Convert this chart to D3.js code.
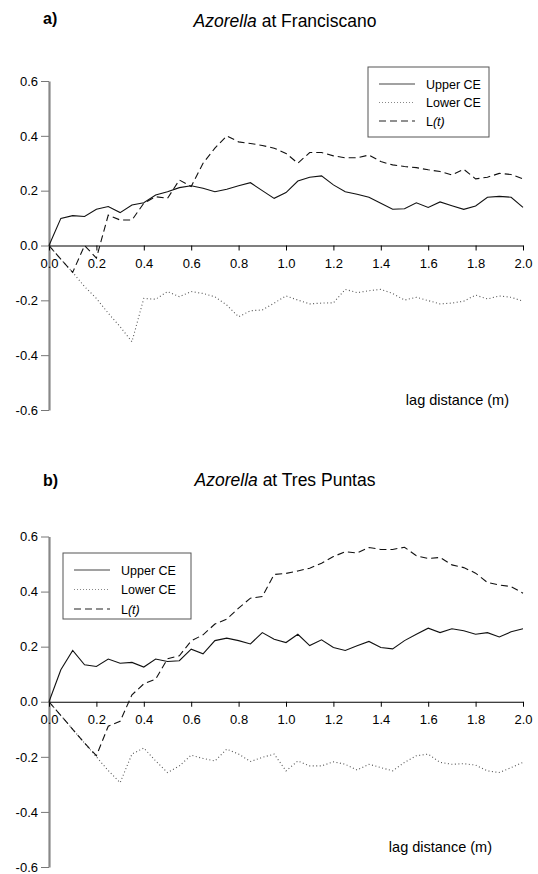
<!DOCTYPE html>
<html>
<head>
<meta charset="utf-8">
<script src="https://cdn.jsdelivr.net/npm/d3@7"></script>
<style>
  body { margin: 0; background: #fff; }
  text { font-family: "Liberation Sans", Arial, sans-serif; }
</style>
</head>
<body>
<script>
var lag = [0.00, 0.05, 0.10, 0.15, 0.20, 0.25, 0.30, 0.35, 0.40, 0.45,
           0.50, 0.55, 0.60, 0.65, 0.70, 0.75, 0.80, 0.85, 0.90, 0.95,
           1.00, 1.05, 1.10, 1.15, 1.20, 1.25, 1.30, 1.35, 1.40, 1.45,
           1.50, 1.55, 1.60, 1.65, 1.70, 1.75, 1.80, 1.85, 1.90, 1.95, 2.00];

// a) Franciscano
var aUpper = [0, 0.099, 0.109, 0.106, 0.132, 0.142, 0.120, 0.148, 0.156, 0.184,
              0.196, 0.211, 0.218, 0.209, 0.196, 0.205, 0.218, 0.229, 0.200, 0.172,
              0.193, 0.235, 0.249, 0.254, 0.221, 0.196, 0.187, 0.176, 0.154, 0.132,
              0.134, 0.156, 0.139, 0.159, 0.145, 0.132, 0.144, 0.176, 0.179, 0.176, 0.139];
var aLower = [0, -0.050, -0.098, -0.150, -0.193, -0.247, -0.296, -0.351, -0.193, -0.196,
              -0.168, -0.187, -0.168, -0.175, -0.187, -0.217, -0.260, -0.238, -0.235, -0.210,
              -0.184, -0.199, -0.213, -0.210, -0.209, -0.160, -0.172, -0.165, -0.160, -0.175,
              -0.199, -0.189, -0.201, -0.213, -0.210, -0.203, -0.181, -0.195, -0.184, -0.189, -0.203];
var aL = [0, -0.050, -0.098, 0.000, -0.046, 0.111, 0.093, 0.093, 0.154, 0.178,
          0.172, 0.239, 0.215, 0.300, 0.355, 0.400, 0.378, 0.372, 0.365, 0.355,
          0.336, 0.300, 0.339, 0.339, 0.327, 0.320, 0.320, 0.330, 0.306, 0.294,
          0.288, 0.284, 0.276, 0.270, 0.257, 0.278, 0.243, 0.249, 0.263, 0.259, 0.243];

// b) Tres Puntas
var bUpper = [0, 0.116, 0.186, 0.134, 0.128, 0.155, 0.140, 0.143, 0.126, 0.155,
              0.146, 0.149, 0.191, 0.174, 0.222, 0.231, 0.222, 0.210, 0.251, 0.227,
              0.215, 0.245, 0.204, 0.225, 0.197, 0.186, 0.203, 0.219, 0.197, 0.192,
              0.222, 0.245, 0.267, 0.251, 0.265, 0.258, 0.245, 0.251, 0.235, 0.254, 0.265];
var bLower = [0, -0.050, -0.100, -0.150, -0.200, -0.250, -0.294, -0.190, -0.168, -0.215,
              -0.257, -0.233, -0.194, -0.206, -0.215, -0.172, -0.190, -0.217, -0.202, -0.190,
              -0.251, -0.215, -0.233, -0.233, -0.218, -0.227, -0.248, -0.227, -0.239, -0.251,
              -0.220, -0.196, -0.190, -0.220, -0.227, -0.225, -0.230, -0.251, -0.257, -0.239, -0.220];
var bL = [0, -0.050, -0.100, -0.150, -0.196, -0.089, -0.071, 0.025, 0.065, 0.082,
          0.156, 0.167, 0.221, 0.243, 0.282, 0.300, 0.340, 0.376, 0.382, 0.462,
          0.466, 0.475, 0.485, 0.503, 0.527, 0.545, 0.540, 0.560, 0.553, 0.553,
          0.561, 0.530, 0.520, 0.524, 0.497, 0.487, 0.467, 0.433, 0.424, 0.418, 0.394];

var xTicks = [0, 0.2, 0.4, 0.6, 0.8, 1.0, 1.2, 1.4, 1.6, 1.8, 2.0];
var xTickLabels = ["0.0", "0.2", "0.4", "0.6", "0.8", "1.0", "1.2", "1.4", "1.6", "1.8", "2.0"];
var yTicks = [-0.6, -0.4, -0.2, 0, 0.2, 0.4, 0.6];
var yTickLabels = ["-0.6", "-0.4", "-0.2", "0.0", "0.2", "0.4", "0.6"];
var legendNames = ["Upper CE", "Lower CE", "L"];

var svg = d3.select("body").append("svg").attr("width", 538).attr("height", 874);

function panel(o) {
  var x = d3.scaleLinear().domain([0, 2]).range([49, 523]);
  var y = d3.scaleLinear().domain([-0.6, 0.6]).range([o.bottom, o.top]);
  var g = svg.append("g");

  // panel letter + title
  g.append("text").attr("x", 43).attr("y", o.letterY)
    .attr("font-size", 16).attr("font-weight", "bold").text(o.letter);
  var t = g.append("text").attr("x", 285).attr("y", o.titleY)
    .attr("font-size", 17.5).attr("text-anchor", "middle");
  t.append("tspan").attr("font-style", "italic").text("Azorella");
  t.append("tspan").text(" at " + o.site);

  // y axis (gray)
  var ya = g.append("g").attr("transform", "translate(49,0)")
    .call(d3.axisLeft(y).tickValues(yTicks).tickSize(8).tickSizeOuter(0).tickPadding(3)
      .tickFormat(function (d, i) { return yTickLabels[i]; }));
  ya.select(".domain").attr("stroke", "#888").attr("stroke-width", 2.2);
  ya.selectAll(".tick line").attr("stroke", "#777");
  ya.selectAll(".tick text").attr("font-size", 13).attr("fill", "#000")
    .attr("font-family", "'Liberation Sans', Arial, sans-serif");

  // x axis at zero
  var xa = g.append("g").attr("transform", "translate(0," + y(0) + ")")
    .call(d3.axisBottom(x).tickValues(xTicks).tickSize(5).tickSizeOuter(0).tickPadding(8)
      .tickFormat(function (d, i) { return xTickLabels[i]; }));
  xa.select(".domain").attr("stroke", "#000").attr("stroke-width", 1.2);
  xa.selectAll(".tick line").attr("stroke", "#000");
  xa.selectAll(".tick text").attr("font-size", 13).attr("fill", "#000")
    .attr("font-family", "'Liberation Sans', Arial, sans-serif");

  g.append("text").attr("x", o.lagX).attr("y", o.lagY)
    .attr("font-size", 14.5).attr("text-anchor", "end").text("lag distance (m)");

  var line = d3.line().x(function (d, i) { return x(lag[i]); }).y(function (d) { return y(d); });

  var series = [
    {v: o.lower, dash: "1,2.5", col: "#555", w: 1.1},
    {v: o.L, dash: "7,4", col: "#111", w: 1.1},
    {v: o.upper, dash: null, col: "#111", w: 1.1}
  ];
  g.selectAll("path.series").data(series).enter().append("path")
    .attr("class", "series")
    .attr("d", function (d) { return line(d.v); })
    .attr("fill", "none")
    .attr("stroke", function (d) { return d.col; })
    .attr("stroke-width", function (d) { return d.w; })
    .attr("stroke-dasharray", function (d) { return d.dash; });

  // legend
  var lg = g.append("g").attr("transform", "translate(" + o.legX + "," + o.legY + ")");
  lg.append("rect").attr("width", o.legW).attr("height", o.legH)
    .attr("fill", "#fff").attr("stroke", "#555").attr("stroke-width", 1);
  var styles = [
    {dash: null, col: "#444"},
    {dash: "1,2", col: "#888"},
    {dash: "7,4", col: "#222"}
  ];
  var rows = lg.selectAll("g.row").data(legendNames).enter().append("g")
    .attr("class", "row")
    .attr("transform", function (d, i) { return "translate(0," + (o.legRow0 + i * o.legStep) + ")"; });
  rows.append("line").attr("x1", 11).attr("x2", 47).attr("y1", 0).attr("y2", 0)
    .attr("stroke", function (d, i) { return styles[i].col; })
    .attr("stroke-width", 1.1)
    .attr("stroke-dasharray", function (d, i) { return styles[i].dash; });
  var tx = rows.append("text").attr("x", 58).attr("y", 4.5).attr("font-size", 12.5);
  tx.each(function (d, i) {
    var s = d3.select(this);
    s.append("tspan").text(d);
    if (i == 2) s.append("tspan").attr("font-style", "italic").text("(t)");
  });
}

panel({letter: "a)", site: "Franciscano", letterY: 24, titleY: 27, top: 81, bottom: 410,
       upper: aUpper, lower: aLower, L: aL, lagX: 509, lagY: 405,
       legX: 368, legY: 67, legW: 121, legH: 70, legRow0: 17, legStep: 18.5});
panel({letter: "b)", site: "Tres Puntas", letterY: 486, titleY: 486, top: 536.5, bottom: 867,
       upper: bUpper, lower: bLower, L: bL, lagX: 492, lagY: 852,
       legX: 63, legY: 553, legW: 128, legH: 66, legRow0: 17, legStep: 19.5});
</script>
</body>
</html>
